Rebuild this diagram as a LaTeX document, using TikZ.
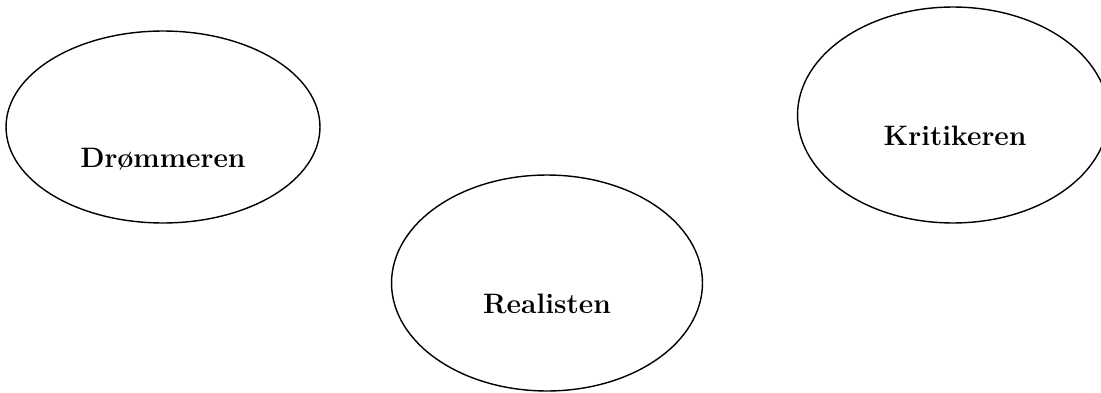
\documentclass[tikz,border=0pt]{standalone}
\usepackage{tikz}
\usetikzlibrary{shapes.geometric}

\tikzset{
    role/.style={ellipse, draw=black, line width=0.8pt, inner sep=0pt},
    rolename/.style={anchor=base, font=\fontsize{16}{19}\selectfont\bfseries}
}

\begin{document}
\begin{tikzpicture}[x=0.02cm, y=-0.02cm]
    \useasboundingbox (0,0) rectangle (1101,392);

    % Ellipses
    \node[role, minimum width=6.28cm, minimum height=3.84cm] (dreamer) at (163,127) {};
    \node[role, minimum width=6.22cm, minimum height=4.32cm] (realist) at (547,283) {};
    \node[role, minimum width=6.22cm, minimum height=4.32cm] (critic) at (953,115) {};

    % Names
    \node[rolename] (dreamername) at (163,167) {Drømmeren};
    \node[rolename] (realistname) at (547,313) {Realisten};
    \node[rolename] (criticname) at (955,145) {Kritikeren};
\end{tikzpicture}
\end{document}
